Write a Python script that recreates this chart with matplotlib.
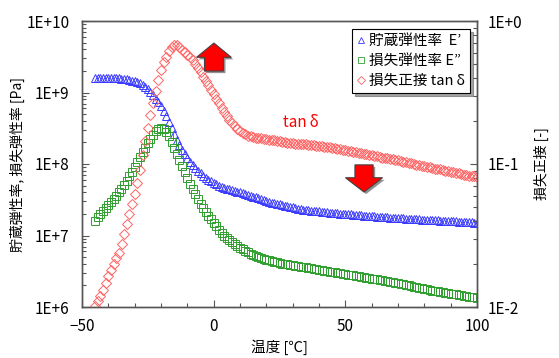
import numpy as np
import matplotlib
matplotlib.use("Agg")
import matplotlib.pyplot as plt
from matplotlib.patches import FancyArrow
from matplotlib.lines import Line2D
from matplotlib.ticker import FixedLocator, LogLocator, FuncFormatter, NullFormatter
import matplotlib.patheffects as pe

plt.rcParams['font.family'] = ['Noto Sans CJK JP', 'DejaVu Sans']

# temperature [C]
temperature = list(range(-45, 101))

# storage modulus E' [MPa]
e_storage = [
    1600, 1600, 1600, 1600, 1600, 1595, 1590, 1585, 1580, 1570,
    1560, 1545, 1525, 1500, 1470, 1435, 1395, 1345, 1280, 1200,
    1110, 1010, 910, 820, 740, 650, 560, 470, 390, 320,
    265, 220, 185, 158, 138, 122, 108, 97, 88, 80,
    74, 69, 64, 60, 57, 54, 52, 50, 48, 46.5,
    45, 44, 43, 42, 41, 40, 39, 38, 37, 36,
    35, 34, 33, 32, 31, 30, 29.4, 28.8, 28.2, 27.7,
    27.2, 26.7, 26.2, 25.7, 25.2, 24.7, 24.2, 23.8, 23.4, 23.0,
    22.7, 22.5, 22.3, 22.1, 21.9, 21.7, 21.5, 21.3, 21.1, 20.9,
    20.7, 20.6, 20.5, 20.3, 20.2, 20.0, 19.9, 19.8, 19.6, 19.5,
    19.3, 19.2, 19.0, 18.9, 18.7, 18.6, 18.5, 18.4, 18.2, 18.1,
    18.0, 17.9, 17.8, 17.7, 17.6, 17.5, 17.4, 17.3, 17.2, 17.1,
    17.1, 17.0, 16.9, 16.8, 16.7, 16.7, 16.6, 16.5, 16.4, 16.3,
    16.3, 16.2, 16.1, 16.0, 15.9, 15.9, 15.8, 15.7, 15.6, 15.5,
    15.5, 15.4, 15.3, 15.2, 15.1, 15.0,
]

# loss modulus E'' [MPa]
e_loss = [
    16, 18, 20, 22, 24.5, 27, 29.5, 32.5, 36, 40,
    45, 51, 58, 67, 77, 90, 106, 125, 147, 170,
    195, 225, 255, 285, 305, 315, 305, 280, 245, 205,
    170, 140, 115, 95, 78, 64, 53, 45, 38, 32,
    28, 24.5, 21.5, 19, 17, 15, 13.5, 12, 11, 10,
    9.3, 8.6, 8.0, 7.5, 7.1, 6.7, 6.4, 6.1, 5.8, 5.6,
    5.4, 5.2, 5.0, 4.9, 4.75, 4.6, 4.5, 4.4, 4.3, 4.2,
    4.1, 4.05, 4.0, 3.94, 3.89, 3.84, 3.78, 3.73, 3.68, 3.62,
    3.57, 3.52, 3.47, 3.42, 3.37, 3.32, 3.27, 3.22, 3.17, 3.12,
    3.08, 3.04, 3.0, 2.96, 2.92, 2.88, 2.84, 2.8, 2.77, 2.73,
    2.7, 2.66, 2.62, 2.58, 2.54, 2.5, 2.47, 2.43, 2.4, 2.36,
    2.32, 2.28, 2.25, 2.21, 2.18, 2.14, 2.1, 2.07, 2.03, 2.0,
    1.97, 1.93, 1.9, 1.86, 1.83, 1.8, 1.77, 1.73, 1.7, 1.68,
    1.65, 1.63, 1.6, 1.58, 1.56, 1.54, 1.52, 1.5, 1.48, 1.46,
    1.44, 1.42, 1.40, 1.38, 1.36, 1.34,
]

# loss tangent tan delta [-]
tan_delta = [
    0.0102, 0.0110, 0.0120, 0.0132, 0.0148, 0.0166, 0.0182, 0.0200, 0.0219, 0.024,
    0.0275, 0.0324, 0.038, 0.0447, 0.0525, 0.0617, 0.074, 0.091, 0.115, 0.145,
    0.178, 0.219, 0.269, 0.324, 0.389, 0.457, 0.513, 0.562, 0.617, 0.653,
    0.676, 0.676, 0.66, 0.63, 0.61, 0.582, 0.556, 0.531, 0.50, 0.468,
    0.437, 0.407, 0.38, 0.355, 0.331, 0.309, 0.287, 0.266, 0.247, 0.230,
    0.215, 0.203, 0.192, 0.183, 0.176, 0.170, 0.165, 0.161, 0.158, 0.156,
    0.154, 0.153, 0.152, 0.151, 0.150, 0.149, 0.148, 0.147, 0.146, 0.145,
    0.144, 0.143, 0.142, 0.141, 0.141, 0.140, 0.139, 0.139, 0.138, 0.138,
    0.137, 0.136, 0.136, 0.135, 0.134, 0.134, 0.133, 0.132, 0.132, 0.131,
    0.130, 0.129, 0.128, 0.127, 0.126, 0.125, 0.124, 0.123, 0.122, 0.121,
    0.120, 0.119, 0.118, 0.117, 0.116, 0.115, 0.114, 0.113, 0.112, 0.111,
    0.110, 0.110, 0.109, 0.108, 0.107, 0.106, 0.105, 0.104, 0.103, 0.102,
    0.101, 0.100, 0.099, 0.098, 0.097, 0.097, 0.096, 0.095, 0.094, 0.093,
    0.092, 0.092, 0.091, 0.090, 0.089, 0.088, 0.088, 0.087, 0.086, 0.085,
    0.084, 0.084, 0.083, 0.082, 0.082, 0.081,
]

labels = ["貯蔵弾性率  E’", "損失弾性率 E”", "損失正接 tan\u2009δ"]

t = np.array(temperature)
ep = np.array(e_storage) * 1e6
epp = np.array(e_loss) * 1e6
td = np.array(tan_delta)

c_blue = "#3a3aff"
c_green = "#2f9f2f"
c_red = "#ff6464"
spine_c = "#555555"

fig = plt.figure(figsize=(5.59, 3.58), dpi=100)
ax = fig.add_axes([82 / 559, 1 - 307 / 358, 395 / 559, 286 / 358])
ax2 = ax.twinx()

ax.plot(t, ep, ls="none", marker="^", ms=6, mfc="none", mec=c_blue, mew=0.7)
ax.plot(t, epp, ls="none", marker="s", ms=6, mfc="none", mec=c_green, mew=0.7)
ax2.plot(t, td, ls="none", marker="D", ms=5, mfc="none", mec=c_red, mew=0.7)

ax.set_xlim(-50, 100)
ax.set_yscale("log")
ax.set_ylim(1e6, 1e10)
ax2.set_yscale("log")
ax2.set_ylim(1e-2, 1e0)

fmt = FuncFormatter(lambda v, p: "1E{:+d}".format(int(round(np.log10(v)))))
for a in (ax, ax2):
    a.yaxis.set_major_locator(LogLocator(base=10, numticks=10))
    a.yaxis.set_minor_locator(LogLocator(base=10, subs=np.arange(2, 10), numticks=10))
    a.yaxis.set_major_formatter(fmt)
    a.yaxis.set_minor_formatter(NullFormatter())

ax.xaxis.set_major_locator(FixedLocator([-50, 0, 50, 100]))
ax.xaxis.set_minor_locator(FixedLocator(list(range(-40, 100, 10))))

for a in (ax, ax2):
    a.tick_params(which="both", direction="in", colors=spine_c, labelcolor="black",
                  labelsize=11)
    a.tick_params(which="major", length=5, width=0.8)
    a.tick_params(which="minor", length=3, width=0.8)
    for s in a.spines.values():
        s.set_color(spine_c)
        s.set_linewidth(1.0)
ax.tick_params(axis="y", which="both", right=False, pad=9)
ax.tick_params(axis="x", which="both", top=False, pad=8)
ax2.tick_params(axis="y", which="both", left=False, pad=8)

ax.set_xlabel("温度 [℃]", fontsize=10.5, labelpad=3)
ax.set_ylabel("貯蔵弾性率, 損失弾性率 [Pa]", fontsize=10, labelpad=1)
ax2.set_ylabel("損失正接 [-]", fontsize=10, labelpad=8, rotation=90)

ax2.text(0.555, 0.645, "tan\u2009δ", color="red", fontsize=11,
         transform=ax.transAxes, ha="center", va="center")

shadow = [pe.withSimplePatchShadow(offset=(1.5, -1.5), shadow_rgbFace="#777777", alpha=0.8)]
up = FancyArrow(0.334, 0.825, 0, 0.098, width=0.048, head_width=0.088,
                head_length=0.05, length_includes_head=True,
                transform=ax.transAxes, fc="red", ec="#444444", lw=0.8,
                path_effects=shadow, zorder=5)
down = FancyArrow(0.714, 0.497, 0, -0.095, width=0.046, head_width=0.094,
                  head_length=0.05, length_includes_head=True,
                  transform=ax.transAxes, fc="red", ec="#444444", lw=0.8,
                  path_effects=shadow, zorder=5)
ax2.add_patch(up)
ax2.add_patch(down)

handles = [
    Line2D([], [], ls="none", marker="^", ms=5, mfc="none", mec=c_blue, mew=0.6),
    Line2D([], [], ls="none", marker="s", ms=5, mfc="none", mec=c_green, mew=0.6),
    Line2D([], [], ls="none", marker="D", ms=4, mfc="none", mec=c_red, mew=0.6),
]
leg = ax2.legend(handles, labels, loc="upper right", bbox_to_anchor=(0.982, 0.972),
                 fontsize=10.5, frameon=True, fancybox=False, shadow=True,
                 handlelength=0.6, handletextpad=0.2, borderpad=0.35,
                 labelspacing=0.4, borderaxespad=0)
leg.get_frame().set_edgecolor("black")
leg.get_frame().set_linewidth(0.8)
leg.set_zorder(10)

fig.savefig("out.png", dpi=100)
